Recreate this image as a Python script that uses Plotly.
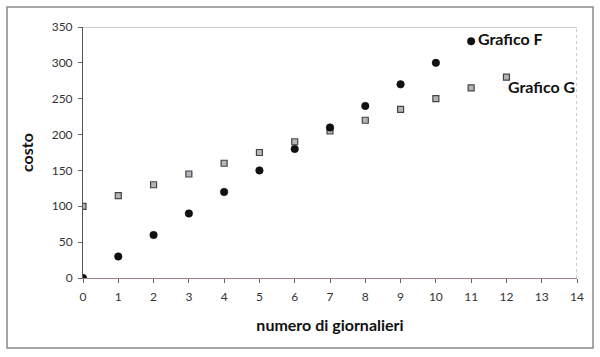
import plotly.graph_objects as go

x_f = [0, 1, 2, 3, 4, 5, 6, 7, 8, 9, 10, 11]
y_f = [0, 30, 60, 90, 120, 150, 180, 210, 240, 270, 300, 330]
x_g = [0, 1, 2, 3, 4, 5, 6, 7, 8, 9, 10, 11, 12]
y_g = [100, 115, 130, 145, 160, 175, 190, 205, 220, 235, 250, 265, 280]
x_ticks = list(range(0, 15))
y_ticks = [0, 50, 100, 150, 200, 250, 300, 350]

FONT = "Lato, 'Open Sans', sans-serif"

fig = go.Figure()
fig.add_trace(go.Scatter(x=x_g, y=y_g, mode="markers", name="Grafico G",
                         marker=dict(symbol="square", size=6, color="#b4b4bc",
                                     line=dict(color="#444444", width=1.2))))
fig.add_trace(go.Scatter(x=x_f, y=y_f, mode="markers", name="Grafico F",
                         marker=dict(symbol="circle", size=7.5, color="#111111",
                                     line=dict(color="#000000", width=0.5))))

fig.update_layout(
    width=600, height=357,
    margin=dict(l=83, r=23, t=27, b=79, autoexpand=False),
    paper_bgcolor="white", plot_bgcolor="white",
    showlegend=False,
    font=dict(family=FONT, size=12, color="#333333"),
    xaxis=dict(range=[0, 14], tickvals=x_ticks, showgrid=False, zeroline=False,
               showline=True, linecolor="#a08080", linewidth=1,
               ticks="outside", ticklen=4, tickcolor="#666666", ticklabelstandoff=4,
               title=dict(text="<b>numero di giornalieri</b>", font=dict(size=16, color="#111111"), standoff=16)),
    yaxis=dict(range=[0, 350], tickvals=y_ticks, showgrid=False, zeroline=False,
               showline=True, linecolor="#555555", linewidth=1,
               ticks="outside", ticklen=4, tickcolor="#666666", ticklabelstandoff=3,
               title=dict(text="<b>costo</b>", font=dict(size=16, color="#111111"), standoff=14)),
    shapes=[
        dict(type="line", xref="x", yref="y", x0=0, x1=14, y0=350, y1=350,
             line=dict(color="#bbbbbb", width=1.5)),
        dict(type="line", xref="x", yref="y", x0=14, x1=14, y0=0, y1=350,
             line=dict(color="#999999", width=1, dash="dot")),
        dict(type="rect", xref="paper", yref="paper",
             x0=-0.1538, x1=1.0324, y0=-0.2789, y1=1.0797,
             line=dict(color="#8a8a8a", width=1.5)),
    ],
    annotations=[
        dict(x=x_f[-1], y=y_f[-1], xref="x", yref="y", text="<b>Grafico F</b>",
             showarrow=False, xanchor="left", yanchor="middle", xshift=5, yshift=3,
             font=dict(size=16, color="#111111")),
        dict(x=x_g[-1], y=y_g[-1], xref="x", yref="y", text="<b>Grafico G</b>",
             showarrow=False, xanchor="left", yanchor="middle", xshift=0, yshift=-9,
             font=dict(size=16, color="#111111")),
    ],
)

fig.write_html("out.html", config={"displayModeBar": False},
               post_script="document.body.style.margin='0';document.body.style.padding='0';")
